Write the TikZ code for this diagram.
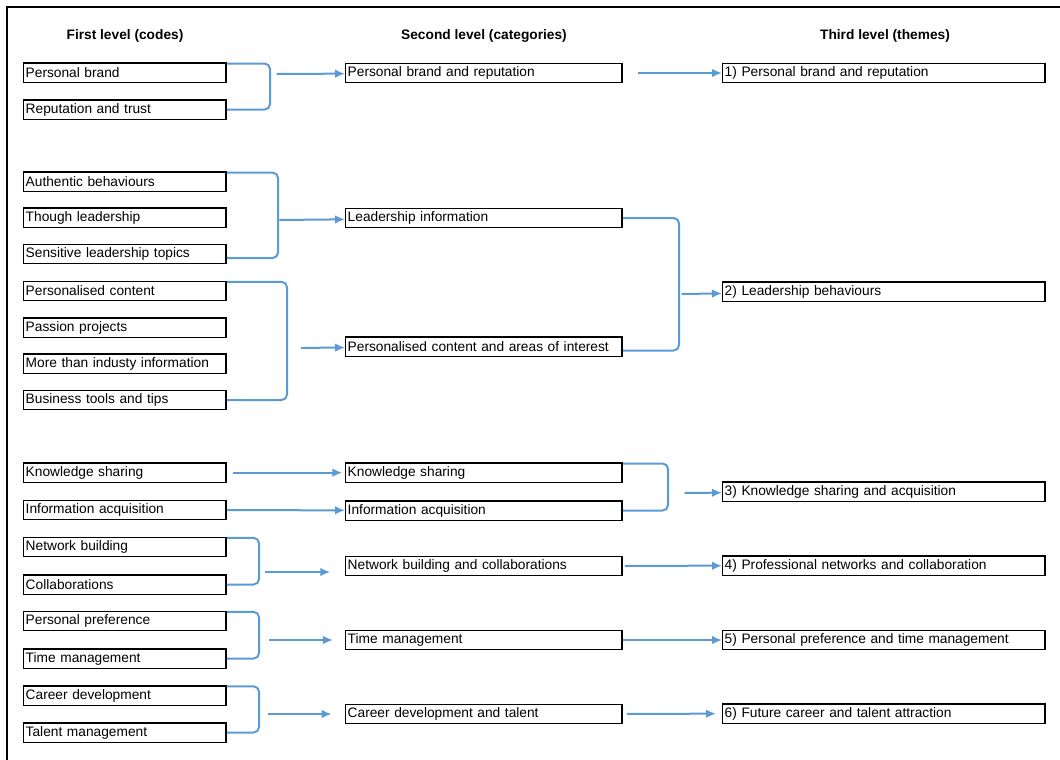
\documentclass[tikz,border=0pt]{standalone}
\usepackage{fontspec}
\setmainfont{Liberation Sans}
\usetikzlibrary{arrows.meta, positioning, calc}
\definecolor{linkblue}{RGB}{91,155,213}

\begin{document}
\begin{tikzpicture}[x=0.75pt, y=-0.75pt, >=latex,
        font=\fontsize{10.3}{12}\selectfont,
        lvlbox/.style={draw, line width=1.1pt, anchor=west, align=left, minimum height=14.6pt, inner xsep=1.5pt, inner ysep=0pt},
        codebox/.style={lvlbox, text width=148.8pt},
        catbox/.style={lvlbox, text width=204.3pt},
        themebox/.style={lvlbox, text width=238.8pt},
        head/.style={font=\fontsize{10.3}{12}\selectfont\bfseries},
        brace/.style={draw=linkblue, line width=1.5pt, rounded corners=4pt},
        flow/.style={draw=linkblue, line width=1.5pt, -{Latex[length=7.5pt,width=6.5pt]}}]
        \useasboundingbox (0,0) rectangle (1060,760);
        \draw[line width=0.8pt] (7,760) -- (7,7) -- (1060,7);

        \node[head] (H1) at (125,36) {First level (codes)};
        \node[head] (H2) at (484,36) {Second level (categories)};
        \node[head] (H3) at (885,36) {Third level (themes)};

        % first level
        \node[codebox] (C1) at (23,72.7) {Personal brand};
        \node[codebox] (C2) at (23,109.5) {Reputation and trust};
        \node[codebox] (C3) at (23,181.7) {Authentic behaviours};
        \node[codebox] (C4) at (23,217.5) {Though leadership};
        \node[codebox] (C5) at (23,254) {Sensitive leadership topics};
        \node[codebox] (C6) at (23,291) {Personalised content};
        \node[codebox] (C7) at (23,327.5) {Passion projects};
        \node[codebox] (C8) at (23,363.5) {More than industy information};
        \node[codebox] (C9) at (23,400) {Business tools and tips};
        \node[codebox] (C10) at (23,472.7) {Knowledge sharing};
        \node[codebox] (C11) at (23,510) {Information acquisition};
        \node[codebox] (C12) at (23,547) {Network building};
        \node[codebox] (C13) at (23,584.5) {Collaborations};
        \node[codebox] (C14) at (23,621) {Personal preference};
        \node[codebox] (C15) at (23,658.5) {Time management};
        \node[codebox] (C16) at (23,695.5) {Career development};
        \node[codebox] (C17) at (23,732.5) {Talent management};

        % second level
        \node[catbox] (K1) at (345,73) {Personal brand and reputation};
        \node[catbox] (K2) at (345,218) {Leadership information};
        \node[catbox] (K3) at (345,346.5) {Personalised content and areas of interest};
        \node[catbox] (K4) at (345,472.7) {Knowledge sharing};
        \node[catbox] (K5) at (345,510.5) {Information acquisition};
        \node[catbox] (K6) at (345,566) {Network building and collaborations};
        \node[catbox] (K7) at (345,640) {Time management};
        \node[catbox] (K8) at (345,714) {Career development and talent};

        % third level
        \node[themebox] (T1) at (722,73) {1) Personal brand and reputation};
        \node[themebox] (T2) at (722,291.5) {2) Leadership behaviours};
        \node[themebox] (T3) at (722,491.7) {3) Knowledge sharing and acquisition};
        \node[themebox] (T4) at (722,565.5) {4) Professional networks and collaboration};
        \node[themebox] (T5) at (722,640) {5) Personal preference and time management};
        \node[themebox] (T6) at (722,713.5) {6) Future career and talent attraction};

        % brackets
        \coordinate (b1) at (270,74);
        \coordinate (b2) at (278,220);
        \coordinate (b3) at (287,348);
        \coordinate (b4) at (679,294);
        \coordinate (b5) at (668,493);
        \coordinate (b6) at (259,572);
        \coordinate (b7) at (259,640);
        \coordinate (b8) at (259,714);

        \draw[brace] ([yshift=-1pt]C1.north east) -- ([yshift=-1pt]C1.north east -| b1) -- (C2.east -| b1) -- (C2.east);
        \draw[brace] ([yshift=-1pt]C3.north east) -- ([yshift=-1pt]C3.north east -| b2) -- ([yshift=-3pt]C5.east -| b2) -- ([yshift=-3pt]C5.east);
        \draw[brace] ([yshift=-1pt]C6.north east) -- ([yshift=-1pt]C6.north east -| b3) -- (C9.east -| b3) -- (C9.east);
        \draw[brace] (K2.east) -- (K2.east -| b4) -- ([yshift=-3pt]K3.east -| b4) -- ([yshift=-3pt]K3.east);
        \draw[brace] ([yshift=-1pt]K4.north east) -- ([yshift=-1pt]K4.north east -| b5) -- (K5.east -| b5) -- (K5.east);
        \draw[brace] ([yshift=-1pt]C12.north east) -- ([yshift=-1pt]C12.north east -| b6) -- (C13.east -| b6) -- (C13.east);
        \draw[brace] ([yshift=-1pt]C14.north east) -- ([yshift=-1pt]C14.north east -| b7) -- (C15.east -| b7) -- (C15.east);
        \draw[brace] ([yshift=-1pt]C16.north east) -- ([yshift=-1pt]C16.north east -| b8) -- (C17.east -| b8) -- (C17.east);

        % arrows
        \draw[flow, shorten <=5pt] (b1) -- (K1);
        \draw[flow, shorten <=1pt] (b2) -- (K2);
        \draw[flow, shorten <=10.5pt] (b3) -- (K3);
        \draw[flow, shorten <=2pt] (b4) -- (T2);
        \draw[flow, shorten <=12.5pt] (b5) -- (T3);
        \draw[flow, shorten <=4.5pt, shorten >=11pt] (b6) -- (b6 -| K6.west);
        \draw[flow, shorten <=7.5pt, shorten >=9pt] (b7) -- (K7);
        \draw[flow, shorten <=7pt, shorten >=10pt] (b8) -- (K8);
        \draw[flow, shorten <=4.5pt, shorten >=2pt] (C10) -- (K4);
        \draw[flow] (C11) -- (K5);
        \draw[flow, shorten <=11pt] (K1) -- (T1);
        \draw[flow, shorten <=1.5pt] (K6) -- (T4);
        \draw[flow] (K7) -- (T5);
        \draw[flow, shorten <=3pt, shorten >=4.5pt] (K8) -- (T6);
    \end{tikzpicture}
\end{document}
